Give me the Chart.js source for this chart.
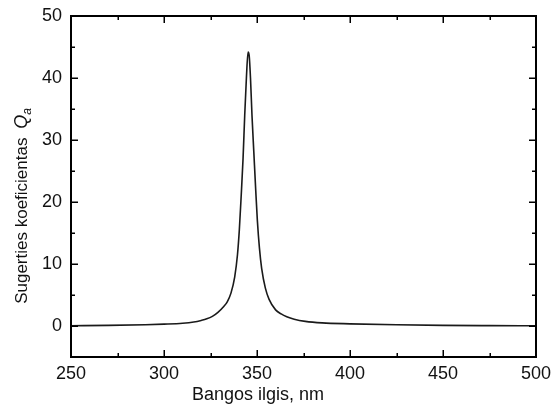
<!DOCTYPE html>
<html>
<head>
<meta charset="utf-8">
<script src="https://cdn.jsdelivr.net/npm/chart.js@4/dist/chart.umd.min.js"></script>
<style>
  html, body { margin: 0; padding: 0; background: #fff; }
  #wrap { width: 553px; height: 408px; }
</style>
</head>
<body>
<div id="wrap"><canvas id="c" width="553" height="408"></canvas></div>
<script>
(function(){
  'use strict';

  // values (wavelength in nm, absorption efficiency Qa)
  const wavelengths = [250, 270, 290, 300, 310, 316, 320, 323, 326, 329, 332, 334, 336, 338, 339.5, 340.5, 341.5, 342.5, 343.4, 344.3, 345.2, 345.8, 346.5, 347.3, 348.3, 349.3, 350.2, 351.3, 352.5, 354.5, 356.5, 360, 363, 366, 370, 376, 385, 400, 425, 450, 475, 500];
  const qa = [0.05, 0.1, 0.2, 0.3, 0.45, 0.65, 0.9, 1.15, 1.55, 2.2, 3.1, 3.9, 5.3, 7.9, 11.5, 15.5, 21, 27, 34, 40, 44.2, 43.6, 40, 34, 28, 22, 17, 12.6, 9.3, 6.1, 4.3, 2.6, 1.95, 1.5, 1.1, 0.75, 0.5, 0.35, 0.2, 0.1, 0.06, 0.04];

  const xMajor = [250, 300, 350, 400, 450, 500];
  const xMinor = [275, 325, 375, 425, 475];
  const yMajor = [0, 10, 20, 30, 40, 50];
  const yMinor = [-5, 5, 15, 25, 35, 45];

  const FONT = '"Liberation Sans", Arial, Helvetica, sans-serif';

  const points = wavelengths.map((w, i) => ({ x: w, y: qa[i] }));

  // frame + inward ticks + axis titles
  const frame = {
    id: 'frame',
    afterDraw(chart){
      const ctx = chart.ctx;
      const a = chart.chartArea;
      const xs = chart.scales.x, ys = chart.scales.y;
      ctx.save();
      ctx.strokeStyle = '#000';
      ctx.lineWidth = 2;
      ctx.strokeRect(a.left, a.top, a.right - a.left, a.bottom - a.top);

      ctx.lineWidth = 1.5;
      ctx.beginPath();
      function xt(v, len){
        const p = Math.round(xs.getPixelForValue(v)) + 0.25;
        ctx.moveTo(p, a.bottom); ctx.lineTo(p, a.bottom - len);
        ctx.moveTo(p, a.top); ctx.lineTo(p, a.top + len);
      }
      function yt(v, len){
        const p = Math.round(ys.getPixelForValue(v)) + 0.25;
        ctx.moveTo(a.left, p); ctx.lineTo(a.left + len, p);
        ctx.moveTo(a.right, p); ctx.lineTo(a.right - len, p);
      }
      xMajor.forEach(v => xt(v, 7));
      xMinor.forEach(v => xt(v, 4));
      yMajor.forEach(v => yt(v, 7));
      yMinor.forEach(v => yt(v, 4));
      ctx.stroke();

      // x title
      ctx.fillStyle = '#111';
      ctx.font = '18px ' + FONT;
      ctx.textAlign = 'center';
      ctx.textBaseline = 'alphabetic';
      ctx.fillText('Bangos ilgis, nm', 258, 400);

      // y title with italic Q and subscript a
      ctx.translate(27, 206);
      ctx.rotate(-Math.PI / 2);
      const main = 'Sugerties koeficientas ';
      ctx.font = '17px ' + FONT;
      const w1 = ctx.measureText(main).width;
      ctx.font = 'italic 18px ' + FONT;
      const w2 = ctx.measureText('Q').width;
      ctx.font = 'italic 12px ' + FONT;
      const w3 = ctx.measureText('a').width;
      let x0 = -(w1 + 4 + w2 + w3) / 2;
      ctx.textAlign = 'left';
      ctx.font = '17px ' + FONT;
      ctx.fillText(main, x0, 0);
      x0 += w1 + 4;
      ctx.font = 'italic 18px ' + FONT;
      ctx.fillText('Q', x0, 0);
      x0 += w2;
      ctx.font = 'italic 12px ' + FONT;
      ctx.fillText('a', x0, 4);
      ctx.restore();
    }
  };

  new Chart(document.getElementById('c'), {
    type: 'line',
    data: {
      datasets: [{
        data: points,
        borderColor: '#1a1a1a',
        borderWidth: 1.6,
        pointRadius: 0,
        fill: false,
        cubicInterpolationMode: 'monotone'
      }]
    },
    options: {
      responsive: false,
      animation: false,
      devicePixelRatio: 1,
      layout: { padding: { left: 0, top: 16, right: 17, bottom: 0 } },
      plugins: { legend: { display: false }, tooltip: { enabled: false } },
      scales: {
        x: {
          type: 'linear',
          min: 250, max: 500,
          afterFit(s){ s.height = 51; s.paddingLeft = 0; s.paddingRight = 0; },
          afterBuildTicks(s){ s.ticks = xMajor.map(v => ({ value: v })); },
          grid: { display: false, drawTicks: false },
          border: { display: false },
          ticks: { color: '#111', padding: 6, font: { family: FONT, size: 18 }, maxRotation: 0 }
        },
        y: {
          type: 'linear',
          min: -5, max: 50,
          afterFit(s){ s.width = 71; s.paddingTop = 0; s.paddingBottom = 0; },
          afterBuildTicks(s){ s.ticks = yMajor.map(v => ({ value: v })); },
          grid: { display: false, drawTicks: false },
          border: { display: false },
          ticks: { color: '#111', padding: 9, font: { family: FONT, size: 18 } }
        }
      }
    },
    plugins: [frame]
  });
})();
</script>
</body>
</html>
